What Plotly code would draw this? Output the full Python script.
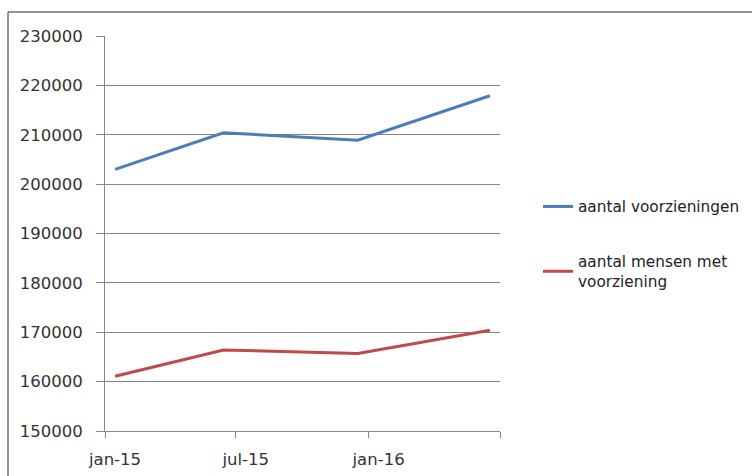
import plotly.graph_objects as go

dates = ["2015-01-15", "2015-06-14", "2015-12-17", "2016-06-17"]
voorzieningen = [203000, 210400, 208900, 217900]
mensen = [161100, 166400, 165700, 170400]
tick_dates = ["2015-01-01", "2015-07-01", "2016-01-01", "2016-07-01"]
tick_labels = ["jan-15", "jul-15", "jan-16", ""]
y_ticks = [150000, 160000, 170000, 180000, 190000, 200000, 210000, 220000, 230000]

W, H = 752, 476
L, R, T, B = 105, 500, 36, 431

fig = go.Figure()
fig.add_trace(go.Scatter(x=dates, y=voorzieningen, mode="lines", name="aantal voorzieningen",
                         line=dict(color="#4A7EBB", width=3), legendgroup="a"))
fig.add_trace(go.Scatter(x=dates, y=mensen, mode="lines", name="aantal mensen met<br>voorziening",
                         line=dict(color="#BE4B48", width=3), legendgroup="b"))

font = "'DejaVu Sans', sans-serif"
px = lambda x: (x - L) / (R - L)
py = lambda y: (B - y) / (B - T)

fig.update_layout(
    width=W, height=H,
    margin=dict(l=L, r=W - R, t=T, b=H - B, pad=0, autoexpand=False),
    paper_bgcolor="white", plot_bgcolor="white",
    font=dict(family=font, color="#333333"),
    showlegend=True,
    legend=dict(x=px(538), y=py(190), xanchor="left", yanchor="top",
                font=dict(size=15.3, family=font, color="#222222"),
                tracegroupgap=32, bgcolor="rgba(0,0,0,0)", itemwidth=30),
    xaxis=dict(type="date", range=["2015-01-01", "2016-07-01"],
               tickmode="array", tickvals=tick_dates, ticktext=tick_labels,
               ticks="outside", ticklen=6, tickcolor="#868686", tickwidth=1,
               ticklabelshift=10, ticklabelstandoff=7, automargin=False,
               showgrid=False, showline=True, linecolor="#868686", linewidth=1,
               tickfont=dict(size=16.5, family=font, color="#333333"), zeroline=False),
    yaxis=dict(range=[150000, 230000], tickmode="array", tickvals=y_ticks,
               ticktext=[str(v) for v in y_ticks], automargin=False,
               ticks="outside", ticklen=8, tickcolor="#868686", tickwidth=1,
               ticklabelstandoff=10,
               showgrid=True, gridcolor="#868686", gridwidth=1,
               showline=True, linecolor="#868686", linewidth=1,
               tickfont=dict(size=16.5, family=font, color="#333333"), zeroline=False),
)

# outer chart border (top and left edges visible)
fig.add_shape(type="line", xref="paper", yref="paper", x0=px(8), x1=px(8), y0=py(H + 5), y1=py(12),
              line=dict(color="#6F6F6F", width=1.5))
fig.add_shape(type="line", xref="paper", yref="paper", x0=px(8), x1=px(W + 5), y0=py(12), y1=py(12),
              line=dict(color="#6F6F6F", width=1.5))

fig.write_html("out.html", config={"displayModeBar": False},
               post_script="document.body.style.margin='0';")
